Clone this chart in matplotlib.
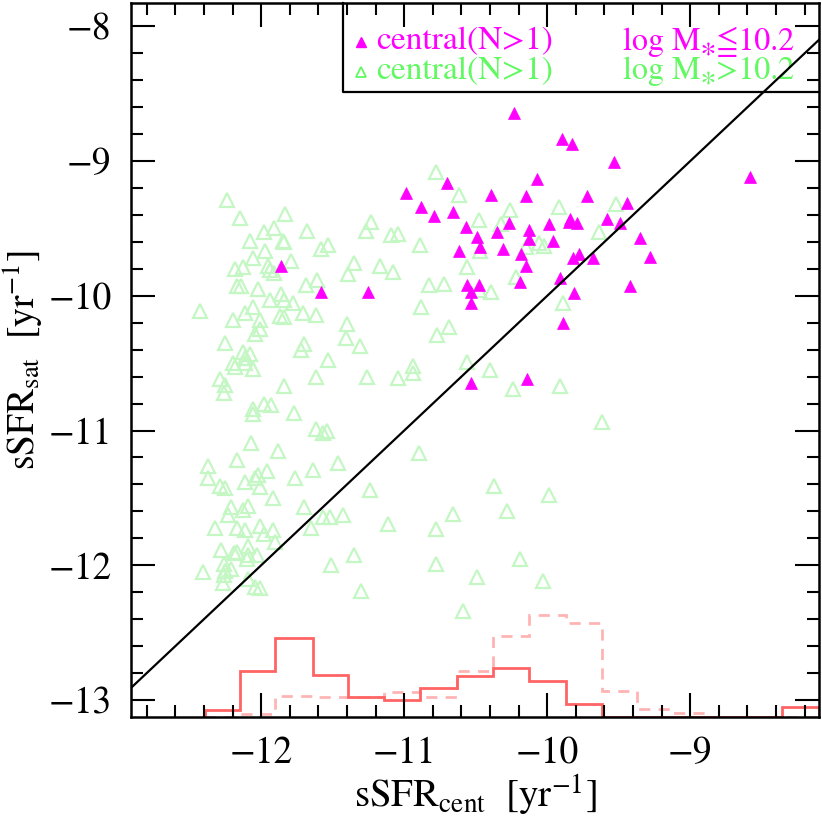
import numpy as np
import matplotlib
matplotlib.use("Agg")
import matplotlib.pyplot as plt
from matplotlib.ticker import MultipleLocator

plt.rcParams['font.family'] = ['STIXGeneral', 'DejaVu Sans']
plt.rcParams['mathtext.fontset'] = 'stix'

# low-mass centrals (log M* <= 10.2): filled magenta triangles
low_x = [-11.86, -11.58, -11.25,
         -10.23, -9.90, -9.83, -9.53, -8.58, -10.07, -10.70, -10.99, -10.39, -10.15,
         -9.72, -9.44, -10.88, -10.66, -10.79, -9.84, -9.85, -9.79, -10.27, -9.58,
         -9.49, -10.57, -9.99, -10.13, -10.35, -10.49, -10.13, -9.96, -9.35, -10.47,
         -10.31, -10.62, -10.18, -9.78, -9.82, -9.68, -9.28, -10.15, -9.91, -10.19,
         -10.56, -10.48, -10.53, -9.42, -9.81, -10.53, -9.89, -10.53, -10.14]
low_y = [-9.78, -9.97, -9.97,
         -8.64, -8.84, -8.87, -9.01, -9.12, -9.13, -9.16, -9.24, -9.25, -9.26,
         -9.26, -9.31, -9.34, -9.38, -9.41, -9.43, -9.45, -9.46, -9.46, -9.43,
         -9.46, -9.49, -9.47, -9.51, -9.53, -9.56, -9.58, -9.59, -9.57, -9.64,
         -9.65, -9.67, -9.69, -9.69, -9.72, -9.72, -9.71, -9.78, -9.87, -9.90,
         -9.92, -9.92, -9.97, -9.93, -9.98, -10.05, -10.20, -10.65, -10.62]

# high-mass centrals (log M* > 10.2): open green triangles
high_x = [-12.24, -12.15, -11.83, -11.98, -11.91, -12.08, -11.85, -11.84, -11.68, -11.23,
          -11.27, -11.09, -11.04, -11.58, -11.53, -11.97, -12.06, -11.79, -12.18, -12.13,
          -11.95, -11.94, -11.91, -11.35, -11.39, -11.17, -11.08, -11.61, -11.69, -12.17,
          -12.14, -12.02, -11.94, -11.86, -11.84, -11.78, -12.43, -12.06, -12.11, -12.20,
          -12.01, -12.01, -12.04, -11.87, -11.84, -11.71, -11.62, -11.40, -11.41, -11.31,
          -12.25, -12.13, -12.08, -12.11, -12.20, -12.18, -12.11, -12.06, -11.70, -11.72,
          -11.53, -12.29, -12.25, -11.62, -11.84, -11.26, -11.04,
          -10.78, -10.62, -10.26, -9.92, -9.52, -10.48, -10.32, -10.89, -10.47, -10.15,
          -10.06, -10.02, -9.64, -10.56, -10.22, -10.83, -10.72, -10.48, -10.39, -10.88,
          -9.89, -10.69, -10.77, -10.94, -10.94, -10.56, -10.40, -10.24, -9.91,
          -12.26, -11.98, -11.93, -12.06, -12.06, -11.77, -11.62, -11.54, -11.57, -12.07,
          -11.88, -12.17, -11.46, -12.37, -11.64, -11.96, -12.02, -12.04, -12.37, -11.76,
          -12.11, -12.01, -12.29, -12.25, -11.24, -11.92, -12.21, -12.09, -12.13, -11.70,
          -12.23, -11.57, -11.52, -11.43, -12.32, -12.17, -12.11, -12.01, -11.98, -11.92,
          -11.65, -11.11, -11.90, -12.28, -12.09, -12.19, -12.17, -12.09, -12.03, -12.10,
          -11.35, -12.26, -12.41, -12.25, -12.21, -12.26, -11.51, -12.27, -12.09, -12.04,
          -12.01, -11.30,
          -9.62, -10.90, -10.37, -9.99, -10.66, -10.28, -10.78, -10.19, -10.78, -10.49,
          -10.03, -10.59]
high_y = [-9.29, -9.42, -9.39, -9.53, -9.50, -9.59, -9.59, -9.60, -9.52, -9.45,
          -9.52, -9.55, -9.54, -9.65, -9.62, -9.67, -9.72, -9.74, -9.80, -9.79,
          -9.78, -9.81, -9.83, -9.76, -9.84, -9.78, -9.82, -9.88, -9.92, -9.93,
          -9.93, -9.95, -10.03, -9.99, -10.03, -10.05, -10.11, -10.08, -10.13, -10.18,
          -10.18, -10.25, -10.28, -10.15, -10.16, -10.13, -10.14, -10.21, -10.31, -10.37,
          -10.35, -10.42, -10.43, -10.46, -10.50, -10.53, -10.50, -10.54, -10.36, -10.40,
          -10.48, -10.62, -10.66, -10.60, -10.67, -10.60, -10.61,
          -9.08, -9.25, -9.36, -9.34, -9.32, -9.44, -9.47, -9.62, -9.67, -9.64,
          -9.61, -9.63, -9.53, -9.79, -9.86, -9.92, -9.91, -9.96, -9.97, -10.08,
          -10.05, -10.23, -10.29, -10.52, -10.57, -10.49, -10.55, -10.69, -10.67,
          -10.72, -10.80, -10.81, -10.84, -10.88, -10.87, -10.99, -11.00, -11.02, -11.09,
          -11.15, -11.22, -11.24, -11.26, -11.29, -11.30, -11.33, -11.35, -11.35, -11.35,
          -11.38, -11.42, -11.41, -11.43, -11.44, -11.50, -11.57, -11.56, -11.59, -11.57,
          -11.63, -11.64, -11.64, -11.63, -11.72, -11.72, -11.74, -11.71, -11.77, -11.74,
          -11.72, -11.69, -11.83, -11.89, -11.86, -11.91, -11.90, -11.92, -11.92, -11.95,
          -11.92, -11.99, -12.05, -12.04, -12.03, -12.07, -12.00, -12.13, -12.10, -12.16,
          -12.17, -12.19,
          -10.94, -11.17, -11.41, -11.48, -11.62, -11.60, -11.73, -11.95, -11.99, -12.09,
          -12.12, -12.34]

# histograms along the bottom (heights above the lower axis edge)
hist_edges = [-12.39, -12.15, -11.90, -11.64, -11.39, -11.14, -10.89, -10.63, -10.38,
              -10.13, -9.87, -9.62, -9.37, -9.12, -8.86, -8.61, -8.36, -8.10]
hist_solid = [0.052, 0.341, 0.589, 0.312, 0.146, 0.126, 0.218, 0.304, 0.366,
              0.269, 0.097, 0.0, 0.0, 0.0, 0.0, 0.0, 0.072]
hist_dashed = [0.0, 0.022, 0.158, 0.146, 0.151, 0.188, 0.146, 0.341, 0.601,
               0.759, 0.696, 0.195, 0.059, 0.030, 0.0, 0.0, 0.0]

legend_left = "central(N>1)"
legend_low = "log M⁎≦10.2"
legend_high = "log M⁎>10.2"

xlim = (-12.91, -8.10)
ylim = (-13.126, -7.827)

magenta = '#ff00ff'
pale_green = '#c4f7c4'
text_green = '#62f862'

fig = plt.figure(figsize=(8.22, 8.22), dpi=100)
ax = fig.add_axes([131 / 822, 105 / 822, 688 / 822, 714 / 822])

ax.plot(high_x, high_y, ls='none', marker='^', ms=9.5, mfc='none',
        mec=pale_green, mew=1.6, zorder=2)
ax.plot(low_x, low_y, ls='none', marker='^', ms=9.0, mfc=magenta,
        mec=magenta, mew=0.5, zorder=3)

base = ylim[0]
ax.stairs(np.array(hist_dashed) + base, hist_edges, baseline=base,
          color='#ffb4b4', lw=2.0, ls=(0, (4, 3)), zorder=1)
ax.stairs(np.array(hist_solid) + base, hist_edges, baseline=base,
          color='#ff6464', lw=2.0, zorder=1)

ax.axline((-10, -10), slope=1, color='black', lw=1.6, zorder=4)

ax.set_xlim(*xlim)
ax.set_ylim(*ylim)
ax.set_xticks([-12, -11, -10, -9])
ax.set_yticks([-13, -12, -11, -10, -9, -8])
ax.xaxis.set_minor_locator(MultipleLocator(0.2))
ax.yaxis.set_minor_locator(MultipleLocator(0.2))
ax.tick_params(which='both', direction='in', top=True, right=True,
               width=1.5, labelsize=27, pad=14)
ax.tick_params(which='major', length=17)
ax.tick_params(which='minor', length=8.5)
for s in ax.spines.values():
    s.set_linewidth(1.8)

ax.set_xlabel(r"sSFR$_{\rm cent}$  [yr$^{-1}$]", fontsize=28, labelpad=1)
ax.set_ylabel(r"sSFR$_{\rm sat}$  [yr$^{-1}$]", fontsize=27)
ax.yaxis.set_label_coords(-0.125, 0.5)

# legend box in the upper right
bx, by = 0.308, 0.875
ax.plot([bx, bx, 1.0], [1.0, by, by], transform=ax.transAxes,
        color='black', lw=1.6, clip_on=False, zorder=5)
ax.plot([0.335], [0.9458], transform=ax.transAxes, ls='none', marker='^',
        ms=7, mfc=magenta, mec=magenta, zorder=5)
ax.plot([0.335], [0.9038], transform=ax.transAxes, ls='none', marker='^',
        ms=7, mfc='none', mec=text_green, mew=1.3, zorder=5)
ax.text(0.357, 0.9458, legend_left, transform=ax.transAxes, color=magenta,
        fontsize=24, va='center', ha='left')
ax.text(0.357, 0.9038, legend_left, transform=ax.transAxes, color=text_green,
        fontsize=24, va='center', ha='left')
ax.text(0.7156, 0.9458, legend_low, transform=ax.transAxes, color=magenta,
        fontsize=23, va='center', ha='left')
ax.text(0.7156, 0.9038, legend_high, transform=ax.transAxes, color=text_green,
        fontsize=23, va='center', ha='left')

fig.savefig("out.png", dpi=100)
